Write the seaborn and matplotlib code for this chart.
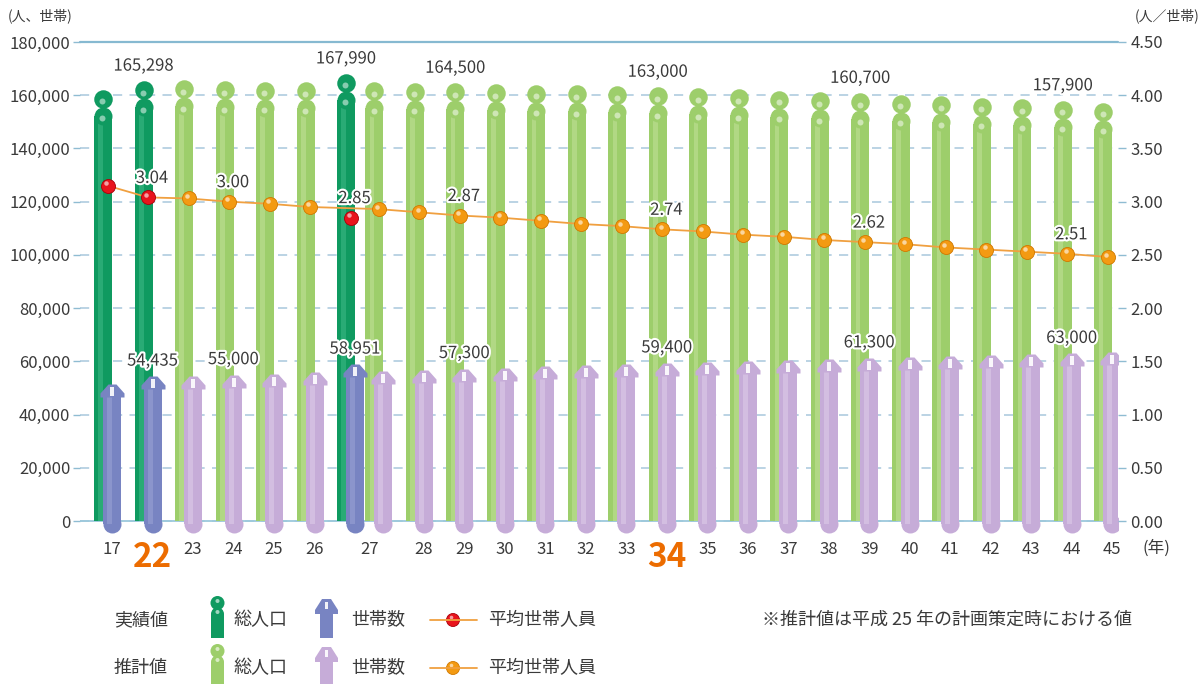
import numpy as np
import pandas as pd
import matplotlib
matplotlib.use("Agg")
import matplotlib.pyplot as plt
import seaborn as sns
import matplotlib.patheffects as pe
from matplotlib.markers import MarkerStyle
from matplotlib.patches import Circle, Rectangle, Polygon
from matplotlib.ticker import FuncFormatter, FixedLocator

# ---------------- data ----------------
actual_years = ["17", "22", "27"]
actual_pop = [162100, 165298, 167990]
actual_hh = [51500, 54435, 58951]
actual_avg = [3.15, 3.04, 2.85]

proj_years = ["23", "24", "25", "26", "27", "28", "29", "30", "31", "32", "33", "34",
              "35", "36", "37", "38", "39", "40", "41", "42", "43", "44", "45"]
proj_pop = [165600, 165200, 165000, 164900, 164800, 164700, 164500, 164200, 164000,
            163700, 163400, 163000, 162600, 162200, 161700, 161200, 160700, 160200,
            159600, 159100, 158500, 157900, 157200]
proj_hh = [54650, 55000, 55400, 55900, 56250, 56800, 57300, 57600, 58150, 58650,
           59000, 59400, 59800, 60300, 60550, 61050, 61300, 61600, 62100, 62400,
           62650, 63000, 63400]
proj_avg = [3.03, 3.00, 2.98, 2.95, 2.93, 2.90, 2.87, 2.85, 2.82, 2.79, 2.77, 2.74,
            2.72, 2.69, 2.67, 2.64, 2.62, 2.60, 2.57, 2.55, 2.53, 2.51, 2.48]

label_actual = ["22", "27"]
label_proj_pop = ["29", "34", "39", "44"]
label_proj_other = ["24", "29", "34", "39", "44"]
highlight_years = ["22", "34"]

legend_rows = ["実績値", "推計値"]
legend_items = ["総人口", "世帯数", "平均世帯人員"]
note_text = "※推計値は平成 25 年の計画策定時における値"

# ---------------- colours ----------------
DG, DG_L = "#0f9a60", "#3cb884"
LG, LG_L = "#9dce6b", "#bfe096"
BL, BL_L = "#7884c2", "#98a2d4"
PU, PU_L = "#c6acd8", "#dccbe8"
RED, RED_E = "#e8141c", "#a8000a"
ORG, ORG_E = "#f39a12", "#d07800"
LINE = "#f0a040"
TXT = "#3a3a3a"

# ---------------- table ----------------
df = pd.DataFrame({
    "year": actual_years + proj_years,
    "kind": ["a"] * len(actual_years) + ["p"] * len(proj_years),
    "pop": actual_pop + proj_pop,
    "hh": actual_hh + proj_hh,
    "avg": actual_avg + proj_avg,
})
df["yn"] = df["year"].astype(int)
df = df.sort_values(["yn", "kind"]).reset_index(drop=True)
step = np.where(df["yn"].diff() == 0, 0.7, 1.0)
step[0] = 0.0
df["pos"] = np.cumsum(step)          # household (front) bar position
GOFF = 0.22                          # population bar sits a bit to the left
df["gpos"] = df["pos"] - GOFF
df["cpos"] = df["pos"] - GOFF / 2
act = df[df["kind"] == "a"]
prj = df[df["kind"] == "p"]

# ---------------- figure / axes geometry ----------------
sns.set_theme(style="white")
plt.rcParams["font.family"] = ["Noto Sans CJK JP", "DejaVu Sans"]
plt.rcParams["axes.unicode_minus"] = False

W, H = 1203, 684
AX_L, AX_R, AX_T, AX_B, ZERO_Y = 80, 1118, 42, 540, 521
fig = plt.figure(figsize=(W / 100, H / 100), dpi=100)
fig.patch.set_facecolor("white")
ax = fig.add_axes([AX_L / W, 1 - AX_B / H, (AX_R - AX_L) / W, (AX_B - AX_T) / H])
ax.set_facecolor("none")

YMAX, RMAX = 180000, 4.5
DPX = YMAX / (ZERO_Y - AX_T)        # data units per pixel (left)
RPX = RMAX / (ZERO_Y - AX_T)        # data units per pixel (right)
SLOT = 40.5                         # pixels per slot
X0PX = 112                          # pixel of first household bar
BODY_W = 18 / SLOT
PT = 72 / 100                       # points per pixel


def msize(px):
    return (px * PT) ** 2


# ---------------- population bars (person shape) ----------------
for sub, c, cl in [(act, DG, DG_L), (prj, LG, LG_L)]:
    d = pd.DataFrame({"x": sub["gpos"].values, "y": sub["pop"].values - 26 * DPX})
    sns.barplot(data=d, x="x", y="y", native_scale=True, orient="x", width=BODY_W,
                color=c, saturation=1, errorbar=None, ax=ax, zorder=2, linewidth=0)
    d2 = pd.DataFrame({"x": sub["gpos"].values - 0.06, "y": sub["pop"].values - 26 * DPX})
    sns.barplot(data=d2, x="x", y="y", native_scale=True, orient="x", width=0.12,
                color=cl, saturation=1, errorbar=None, ax=ax, zorder=2.1, linewidth=0,
                alpha=0.6)
    sns.scatterplot(x=sub["gpos"].values, y=sub["pop"].values - 26 * DPX, s=msize(18),
                    color=c, linewidth=0, ax=ax, zorder=2.2, legend=False)
    sns.scatterplot(x=sub["gpos"].values, y=sub["pop"].values - 9 * DPX, s=msize(18.5),
                    color=c, linewidth=0, ax=ax, zorder=2.3, legend=False)
    for yoff in (11.5, 28.5):
        sns.scatterplot(x=sub["gpos"].values - 0.02, y=sub["pop"].values - yoff * DPX,
                        s=msize(6), color="white", alpha=0.5, linewidth=0, ax=ax,
                        zorder=2.4, legend=False)

# ---------------- household bars (house shape) ----------------
roof = MarkerStyle([(-4, 8), (4, 8), (12, -1), (12, -5), (-12, -5), (-12, -1)])
window = MarkerStyle([(-2, -4.5), (2, -4.5), (2, 4.5), (-2, 4.5)])
for sub, c, cl in [(act, BL, BL_L), (prj, PU, PU_L)]:
    d = pd.DataFrame({"x": sub["pos"].values,
                      "y": sub["hh"].values - 8 * DPX + 3 * DPX})
    sns.barplot(data=d, x="x", y="y", native_scale=True, orient="x", width=BODY_W,
                color=c, saturation=1, errorbar=None, ax=ax, zorder=4, linewidth=0,
                bottom=-3 * DPX)
    d2 = pd.DataFrame({"x": sub["pos"].values - 0.06,
                       "y": sub["hh"].values - 8 * DPX + 3 * DPX})
    sns.barplot(data=d2, x="x", y="y", native_scale=True, orient="x", width=0.12,
                color=cl, saturation=1, errorbar=None, ax=ax, zorder=4.1, linewidth=0,
                alpha=0.6, bottom=-3 * DPX)
    sns.scatterplot(x=sub["pos"].values, y=np.zeros(len(sub)) - 3 * DPX, s=msize(18),
                    color=c, linewidth=0, ax=ax, zorder=4, legend=False)
    sns.scatterplot(x=sub["pos"].values, y=sub["hh"].values - 8 * DPX, s=msize(24),
                    marker=roof, color=c, linewidth=0, ax=ax, zorder=4.2, legend=False)
    sns.scatterplot(x=sub["pos"].values, y=sub["hh"].values - 7 * DPX, s=msize(9),
                    marker=window, color="white", alpha=0.9, linewidth=0, ax=ax,
                    zorder=4.3, legend=False)

# ---------------- axes styling (left) ----------------
ax.set_xlim((AX_L - X0PX) / SLOT, (AX_R - X0PX) / SLOT)
ax.set_ylim(-(AX_B - ZERO_Y) * DPX, YMAX)
ax.set_xlabel("")
ax.set_ylabel("")
for s in ax.spines.values():
    s.set_visible(False)
ax.yaxis.set_major_locator(FixedLocator(np.arange(0, YMAX + 1, 20000)))
ax.yaxis.set_major_formatter(FuncFormatter(lambda v, p: f"{int(v):,}"))
ax.tick_params(axis="y", left=True, length=5, width=1, color="#8fbcd2", pad=2,
               labelsize=12, labelcolor=TXT)
ax.grid(axis="y", color="#a8c8dc", linestyle=(0, (6, 4.8)), linewidth=1.1)
ax.grid(axis="x", visible=False)
ax.set_axisbelow(True)
ax.axhline(YMAX, color="#86b9d1", lw=1.6, zorder=1, clip_on=False)
ax.axhline(0, color="#9cc8dc", lw=1.3, zorder=1)

# x tick labels
tick_df = df.groupby("yn", as_index=False).agg(year=("year", "first"), pos=("pos", "mean"))
ax.set_xticks(tick_df["pos"].values)
ax.set_xticklabels(tick_df["year"].values)
ax.tick_params(axis="x", bottom=False, length=0, pad=1, labelsize=12, labelcolor=TXT)
for lab in ax.get_xticklabels():
    if lab.get_text() in highlight_years:
        lab.set_fontsize(24)
        lab.set_color("#ec6c00")
        lab.set_fontweight("bold")

halo = [pe.withStroke(linewidth=3, foreground="white")]

# population labels
for _, r in df.iterrows():
    if (r["kind"] == "a" and r["year"] in label_actual) or \
       (r["kind"] == "p" and r["year"] in label_proj_pop):
        ax.text(r["gpos"], r["pop"] + 15 * DPX, f"{r['pop']:,}", ha="center", va="center",
                fontsize=12, color=TXT, zorder=8, path_effects=halo)
# household labels
for _, r in df.iterrows():
    if (r["kind"] == "a" and r["year"] in label_actual) or \
       (r["kind"] == "p" and r["year"] in label_proj_other):
        ax.text(r["pos"], r["hh"] + 15 * DPX, f"{r['hh']:,}", ha="center", va="center",
                fontsize=12, color=TXT, zorder=8, path_effects=halo)

# ---------------- right axis: average household size ----------------
ax2 = ax.twinx()
ax2.set_ylim(-(AX_B - ZERO_Y) * RPX, RMAX)
line_df = df[(df["kind"] == "p") | (df["yn"] < prj["yn"].min())]
sns.lineplot(x=line_df["cpos"].values, y=line_df["avg"].values, color=LINE, lw=1.3,
             ax=ax2, zorder=5, sort=False)
for sub, c, ce in [(act, RED, RED_E), (prj, ORG, ORG_E)]:
    sns.scatterplot(x=sub["cpos"].values, y=sub["avg"].values, s=msize(14), color=c,
                    edgecolor=ce, linewidth=0.6, ax=ax2, zorder=6, legend=False)
    sns.scatterplot(x=sub["cpos"].values - 0.04, y=sub["avg"].values + 2.5 * RPX,
                    s=msize(4.5), color="white", alpha=0.6, linewidth=0, ax=ax2,
                    zorder=6.1, legend=False)
for _, r in df.iterrows():
    if (r["kind"] == "a" and r["year"] in label_actual) or \
       (r["kind"] == "p" and r["year"] in label_proj_other):
        ax2.text(r["cpos"] + 0.1, r["avg"] + 19 * RPX, f"{r['avg']:.2f}", ha="center",
                 va="center", fontsize=12, color=TXT, zorder=8, path_effects=halo)
ax2.set_xlim(ax.get_xlim())
ax2.yaxis.set_major_locator(FixedLocator(np.arange(0, RMAX + 0.01, 0.5)))
ax2.yaxis.set_major_formatter(FuncFormatter(lambda v, p: f"{v:.2f}"))
ax2.tick_params(axis="y", right=True, length=6, width=1, color="#8fbcd2", pad=3,
                labelsize=12, labelcolor=TXT)
ax2.set_ylabel("")
ax2.grid(False)
for s in ax2.spines.values():
    s.set_visible(False)

# unit labels
fig.text(8 / W, 1 - 16 / H, "(人、世帯)", fontsize=10, color=TXT, ha="left", va="center")
fig.text(1200 / W, 1 - 16 / H, "(人／世帯)", fontsize=10, color=TXT, ha="right", va="center")
fig.text(1156 / W, 1 - 548 / H, "(年)", fontsize=12, color=TXT, ha="center", va="center")

# ---------------- legend (drawn in pixel space) ----------------
lg = fig.add_axes([0, 0, 1, 1], zorder=-1)
lg.set_xlim(0, W)
lg.set_ylim(H, 0)
lg.axis("off")
row_y = [620, 668]
for i, (rname, gcol, hcol, dcol, dedge) in enumerate(
        [(legend_rows[0], DG, BL, RED, RED_E), (legend_rows[1], LG, PU, ORG, ORG_E)]):
    y = row_y[i]
    lg.text(141, y, rname, fontsize=13, color=TXT, ha="center", va="center")
    # person icon
    lg.add_patch(Rectangle((211, y - 6), 13, 24, color=gcol, lw=0))
    lg.add_patch(Circle((217.5, y - 6), 6.5, color=gcol, lw=0))
    lg.add_patch(Circle((217.5, y - 17), 7, color=gcol, lw=0))
    lg.add_patch(Circle((217.5, y - 19), 2, color="white", alpha=0.6, lw=0))
    lg.add_patch(Circle((217.5, y - 8), 2, color="white", alpha=0.6, lw=0))
    lg.text(234, y, legend_items[0], fontsize=13, color=TXT, ha="left", va="center")
    # house icon
    lg.add_patch(Rectangle((320, y - 10), 13, 28, color=hcol, lw=0))
    lg.add_patch(Polygon([(315, y - 6), (315, y - 10), (322, y - 21), (331, y - 21),
                          (338, y - 10), (338, y - 6)], closed=True, color=hcol, lw=0))
    lg.add_patch(Rectangle((325, y - 18), 3, 7, color="white", alpha=0.9, lw=0))
    lg.text(351, y, legend_items[1], fontsize=13, color=TXT, ha="left", va="center")
    # line + dot icon
    lg.plot([430, 477], [y, y], color=LINE, lw=1.3)
    lg.add_patch(Circle((453, y), 6.5, facecolor=dcol, edgecolor=dedge, lw=0.6))
    lg.add_patch(Circle((451.5, y - 2.5), 1.8, color="white", alpha=0.6, lw=0))
    lg.text(488, y, legend_items[2], fontsize=13, color=TXT, ha="left", va="center")
lg.text(762, row_y[0], note_text, fontsize=13, color=TXT, ha="left", va="center")

fig.savefig("out.png", dpi=100, facecolor="white")
